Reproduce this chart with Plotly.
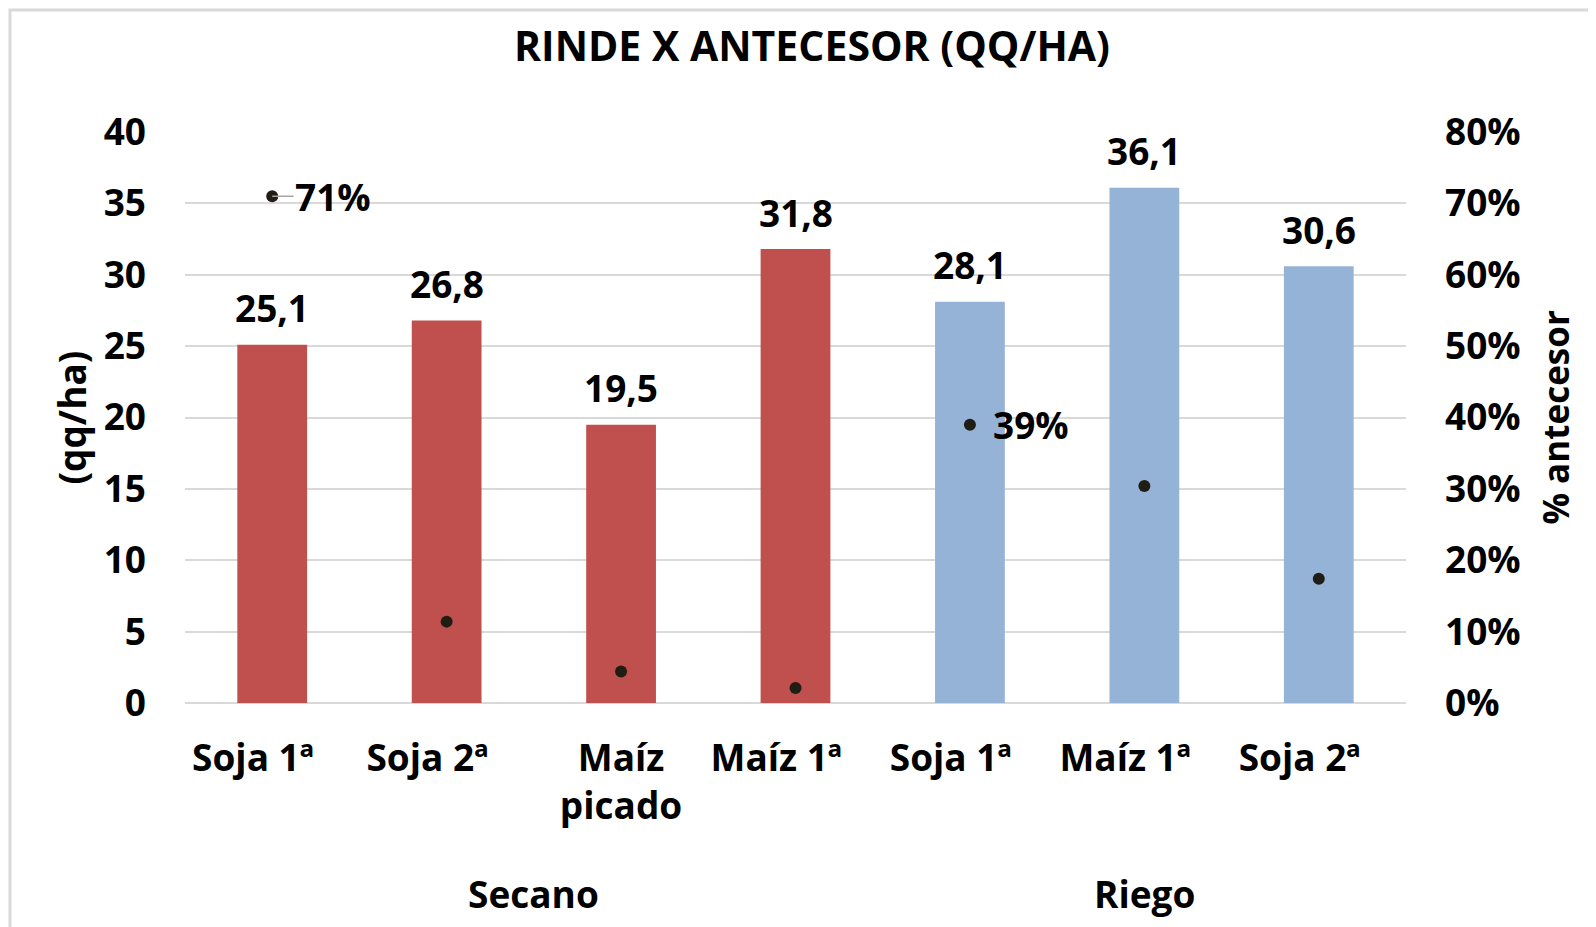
import plotly.graph_objects as go

NB = "\u00a0" * 4
categories = ["Soja 1ª" + NB, "Soja 2ª" + NB, "Maíz<br>picado", "Maíz 1ª" + NB,
              "Soja 1ª" + NB, "Maíz 1ª" + NB, "Soja 2ª" + NB]
groups = ["Secano", "Secano", "Secano", "Secano", "Riego", "Riego", "Riego"]
rinde = [25.1, 26.8, 19.5, 31.8, 28.1, 36.1, 30.6]
pct_antecesor = [0.71, 0.114, 0.044, 0.021, 0.39, 0.304, 0.174]
pct_labels = ["71%", "", "", "", "39%", "", ""]
bar_colors = ["#C0504D"] * 4 + ["#95B3D7"] * 3
y_ticks = [0, 5, 10, 15, 20, 25, 30, 35, 40]
y2_ticks = [0, 0.1, 0.2, 0.3, 0.4, 0.5, 0.6, 0.7, 0.8]

# page has an 8px body margin; positions below are in figure coordinates
W, H = 1588, 919
L, R, T, B = 177, 1398, 124, 695
FONT = "Open Sans"
xs = list(range(len(categories)))

fig = go.Figure()
fig.add_trace(go.Bar(x=xs, y=rinde, marker=dict(color=bar_colors, line=dict(width=0)),
                     width=0.4, showlegend=False, hoverinfo="y"))
fig.add_trace(go.Scatter(x=xs, y=pct_antecesor, yaxis="y2", mode="markers",
                         marker=dict(color="#1f1d14", size=12), showlegend=False))

ann = []
for x, v in zip(xs, rinde):
    ann.append(dict(x=x, y=v, xref="x", yref="y", text=f"{v:.1f}".replace(".", ","),
                    showarrow=False, yanchor="middle", yshift=37,
                    font=dict(family=FONT, size=37, color="#000000")))
for x, v, t in zip(xs, pct_antecesor, pct_labels):
    if not t:
        continue
    if x == 0:
        ann.append(dict(x=x, y=v, xref="x", yref="y2", text=t, showarrow=True,
                        arrowhead=0, arrowwidth=1.5, arrowcolor="#a6a6a6", ax=61, ay=0,
                        font=dict(family=FONT, size=37, color="#000000")))
    else:
        ann.append(dict(x=x, y=v, xref="x", yref="y2", text=t, showarrow=False,
                        xshift=61, font=dict(family=FONT, size=37, color="#000000")))

# group labels
ugroups = []
for g in groups:
    if g not in ugroups:
        ugroups.append(g)
for g in ugroups:
    idx = [i for i, gg in enumerate(groups) if gg == g]
    ann.append(dict(x=(idx[0] + idx[-1]) / 2, y=(B - 885) / (B - T), xref="x", yref="paper",
                    text=g, showarrow=False, yanchor="middle",
                    font=dict(family=FONT, size=37, color="#000000")))

# axis titles
ann.append(dict(x=(63 - L) / (R - L), y=0.5, xref="paper", yref="paper", text="(qq/ha)",
                textangle=-90, showarrow=False, xanchor="center", yanchor="middle",
                font=dict(family=FONT, size=37, color="#000000")))
ann.append(dict(x=(1547 - L) / (R - L), y=0.5, xref="paper", yref="paper", text="% antecesor",
                textangle=-90, showarrow=False, xanchor="center", yanchor="middle",
                font=dict(family=FONT, size=35, color="#000000")))

shapes = [dict(type="rect", xref="paper", yref="paper",
               x0=(2 - L) / (R - L), x1=3, y0=-3, y1=(B - 2) / (B - T),
               line=dict(color="#d9d9d9", width=3), fillcolor="rgba(0,0,0,0)", layer="below")]

fig.update_layout(
    width=W, height=H,
    margin=dict(l=L, r=W - R, t=T, b=H - B, autoexpand=False),
    paper_bgcolor="white", plot_bgcolor="white",
    bargap=0.6,
    title=dict(text="<b>RINDE X ANTECESOR (QQ/HA)</b>", x=(804 - L) / (R - L), xref="paper",
               xanchor="center", y=1 - 39 / H, yanchor="middle",
               font=dict(family=FONT, size=41, color="#000000")),
    xaxis=dict(range=[-0.5, 6.5], tickmode="array", tickvals=xs, ticktext=categories,
               showgrid=False, zeroline=False, showline=False, ticks="",
               tickfont=dict(family=FONT, size=37, color="#000000"), ticklabelstandoff=30),
    yaxis=dict(range=[0, 40], tickmode="array", tickvals=y_ticks, showgrid=True,
               gridcolor="#d9d9d9", gridwidth=1.5, zeroline=True, zerolinecolor="#d9d9d9",
               zerolinewidth=1.5, showline=False, ticks="",
               tickfont=dict(family=FONT, size=37, color="#000000"), ticklabelstandoff=38),
    yaxis2=dict(range=[0, 0.8], overlaying="y", side="right", tickmode="array",
                tickvals=y2_ticks, tickformat=".0%", showgrid=False, zeroline=False,
                showline=False, ticks="",
                tickfont=dict(family=FONT, size=37, color="#000000"), ticklabelstandoff=38),
    annotations=ann, shapes=shapes, showlegend=False,
    font=dict(family=FONT, color="#000000"),
)
fig.update_xaxes(tickfont_weight="bold")
fig.update_yaxes(tickfont_weight="bold")
for a in fig.layout.annotations:
    a.font.weight = "bold"

fig.write_html("out.html")
